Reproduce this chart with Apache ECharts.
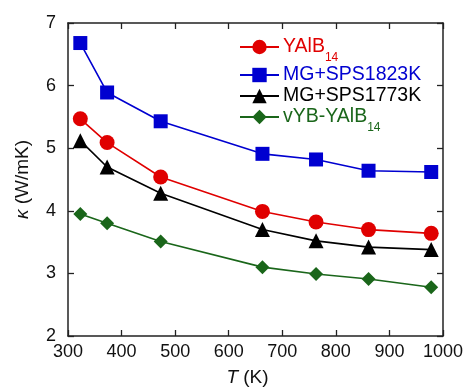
<!DOCTYPE html>
<html>
<head>
<meta charset="utf-8">
<script src="https://cdn.jsdelivr.net/npm/echarts@6/dist/echarts.min.js"></script>
<style>
  html, body { margin: 0; padding: 0; background: #fff; }
  #chart { width: 467px; height: 392px; }
</style>
</head>
<body>
<div id="chart"></div>
<script>
// Temperature (K) for each measurement
const temps = [323, 373, 473, 663, 763, 861, 978];

// Thermal conductivity (W/mK)
const yalb14 = [5.47, 5.09, 4.54, 3.99, 3.82, 3.70, 3.64];
const mgSps1823 = [6.68, 5.89, 5.43, 4.91, 4.82, 4.64, 4.62];
const mgSps1773 = [5.12, 4.70, 4.28, 3.70, 3.52, 3.42, 3.38];
const vybYalb14 = [3.95, 3.80, 3.51, 3.10, 2.99, 2.91, 2.78];

const xTicks = [300, 400, 500, 600, 700, 800, 900, 1000];
const yTicks = [2, 3, 4, 5, 6, 7];

const names = ['YAlB14', 'MG+SPS1823K', 'MG+SPS1773K', 'vYB-YAlB14'];
const colors = ['#e00000', '#0000d0', '#000000', '#1a661a'];
const symbols = ['circle', 'rect', 'triangle', 'diamond'];
const symbolSizes = [15, 14, 15, 14];
const values = [yalb14, mgSps1823, mgSps1773, vybYalb14];

const FONT = 'Liberation Sans, Arial, sans-serif';

const pair = (arr) => temps.map((t, i) => [t, arr[i]]);

const series = names.map((n, k) => ({
  name: n,
  type: 'line',
  data: pair(values[k]),
  symbol: symbols[k],
  symbolSize: symbolSizes[k],
  itemStyle: { color: colors[k] },
  lineStyle: { color: colors[k], width: 1.6 },
  z: 10 - k
}));

const axisLine = { show: true, lineStyle: { color: '#222', width: 1.5 } };
const axisTick = { show: true, inside: true, length: 6, lineStyle: { color: '#222', width: 1.3 } };

// Legend labels: main text in a tall line box, the trailing "14" sits low as a subscript
function legendItem(name, color) {
  return {
    name: name,
    textStyle: {
      color: color,
      fontSize: 19.5,
      fontFamily: FONT,
      rich: {
        b: { fontSize: 19.5, lineHeight: 34, color: color, fontFamily: FONT },
        s: { fontSize: 12, lineHeight: 12, color: color, fontFamily: FONT, verticalAlign: 'bottom' }
      }
    }
  };
}

const chart = echarts.init(document.getElementById('chart'), null, { renderer: 'canvas' });
chart.setOption({
  animation: false,
  backgroundColor: '#fff',
  grid: { left: 68, right: 24, top: 23, bottom: 55, containLabel: false },
  legend: {
    left: 239,
    top: 37,
    padding: 0,
    orient: 'vertical',
    itemGap: 1,
    itemWidth: 39,
    itemHeight: 18,
    data: names.map((n, k) => legendItem(n, colors[k])),
    formatter: function (n) {
      const m = n.match(/^(.*?)(14)$/);
      if (m) return '{b|' + m[1] + '}{s|' + m[2] + '}';
      return '{b|' + n + '}';
    },
    textStyle: { fontSize: 19.5, fontFamily: FONT, padding: [0, 0, 0, -1] }
  },
  xAxis: [{
    type: 'value',
    min: 300, max: 1000, interval: 100,
    name: '{i|T} (K)',
    nameLocation: 'middle',
    nameGap: 32,
    nameTextStyle: {
      fontSize: 19, fontFamily: FONT, color: '#111',
      padding: [0, 16, 0, 0],
      rich: { i: { fontStyle: 'italic', fontSize: 19, fontFamily: FONT, color: '#111' } }
    },
    axisLine: axisLine,
    axisTick: axisTick,
    splitLine: { show: false },
    axisLabel: {
      fontSize: 18, fontFamily: FONT, color: '#111', margin: 7,
      formatter: v => xTicks.includes(v) ? String(v) : ''
    }
  }, {
    type: 'value', position: 'top',
    min: 300, max: 1000, interval: 100,
    axisLine: axisLine, axisTick: axisTick,
    axisLabel: { show: false }, splitLine: { show: false }
  }],
  yAxis: [{
    type: 'value',
    min: 2, max: 7, interval: 1,
    name: '{i|κ} (W/mK)',
    nameLocation: 'middle',
    nameRotate: 90,
    nameGap: 36,
    nameTextStyle: {
      fontSize: 19, fontFamily: FONT, color: '#111',
      rich: { i: { fontStyle: 'italic', fontSize: 19, fontFamily: FONT, color: '#111' } }
    },
    axisLine: axisLine,
    axisTick: axisTick,
    splitLine: { show: false },
    axisLabel: {
      fontSize: 18, fontFamily: FONT, color: '#111', margin: 12,
      formatter: v => yTicks.includes(v) ? String(v) : ''
    }
  }, {
    type: 'value', position: 'right',
    min: 2, max: 7, interval: 1,
    axisLine: axisLine, axisTick: axisTick,
    axisLabel: { show: false }, splitLine: { show: false }
  }],
  series: series
});
</script>
</body>
</html>
